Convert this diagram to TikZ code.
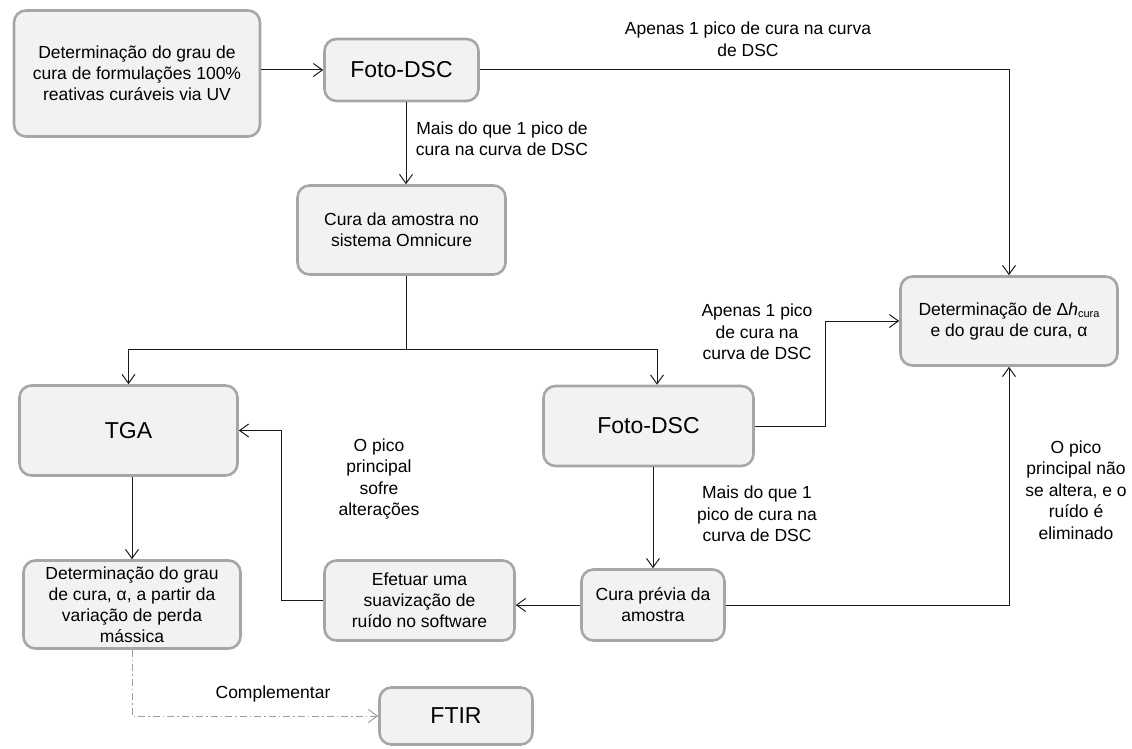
\documentclass[tikz,border=0pt]{standalone}
\usepackage{fontspec}
\setmainfont{Liberation Sans}
\usetikzlibrary{arrows.meta}
\definecolor{boxfill}{HTML}{F2F2F2}
\definecolor{boxline}{HTML}{A6A6A6}
\definecolor{linec}{HTML}{1A1A1A}
\definecolor{dashc}{HTML}{A0A0A0}
\tikzset{
  box/.style={draw=boxline, line width=2.6pt, fill=boxfill, rounded corners=12pt, align=center, inner sep=0pt, font=\fontsize{17.5}{21}\selectfont},
  sz/.style 2 args={minimum width=#1pt, minimum height=#2pt},
  big/.style={font=\fontsize{23}{27}\selectfont},
  lbl/.style={align=center, inner sep=0pt, font=\fontsize{17.5}{21.5}\selectfont},
  tip/.tip={Straight Barb[length=9pt,width=13pt]},
  conn/.style={draw=linec, line width=1pt, -tip},
  plain/.style={draw=linec, line width=1pt},
  ddash/.style={draw=dashc, line width=1pt, dash pattern=on 7pt off 3pt on 1.5pt off 3pt, -tip},
}
\begin{document}
\begin{tikzpicture}[x=1pt,y=-1pt]
\useasboundingbox (0,0) rectangle (1132,749);
% boxes
\node[box, sz={246}{126}] (S) at (137,73.5) {Determinação do grau de\\cura de formulações 100\%\\reativas curáveis via UV};
\node[box, big, sz={154}{62}] (F1) at (401.5,70) {Foto-DSC};
\node[box, sz={208}{89}] (O) at (401.5,230) {Cura da amostra no\\sistema Omnicure};
\node[box, sz={217}{89}] (D) at (1009,321) {Determinação de Δ\textit{h}\raisebox{-0.3ex}{\fontsize{11}{11}\selectfont cura}\\e do grau de cura, α};
\node[box, big, sz={218}{90}] (TGA) at (128.5,430.5) {TGA};
\node[box, big, sz={210}{80}] (F2) at (648.5,426) {Foto-DSC};
\node[box, sz={143}{71}] (CP) at (653,605) {Cura prévia da\\amostra};
\node[box, sz={190}{80}] (E) at (419.5,600.5) {Efetuar uma\\suavização de\\ruído no software};
\node[box, sz={217}{88}] (A) at (132,604.5) {Determinação do grau\\de cura, α, a partir da\\variação de perda\\mássica};
\node[box, big, sz={153}{57}] (FTIR) at (456,716) {FTIR};
% labels
\node[lbl] (l1) at (748,39) {Apenas 1 pico de cura na curva\\de DSC};
\node[lbl] (l2) at (502,138.5) {Mais do que 1 pico de\\cura na curva de DSC};
\node[lbl] (l3) at (757,332) {Apenas 1 pico\\de cura na\\curva de DSC};
\node[lbl] (l4) at (757,514) {Mais do que 1\\pico de cura na\\curva de DSC};
\node[lbl] (l5) at (1076,490) {O pico\\principal não\\se altera, e o\\ruído é\\eliminado};
\node[lbl] (l6) at (379,479) {O pico\\principal\\sofre\\alterações};
\node[lbl] (l7) at (273,694) {Complementar};
% connectors
\draw[conn] (S.east |- F1.west) -- (F1.west);
\draw[conn] (F1.east) -| (D.north);
\coordinate (f1d) at ([xshift=4.5pt]F1.south);
\draw[conn] (f1d) -- (f1d |- O.north);
\coordinate (split) at (406,349);
\draw[plain] (O.south -| split) -- (split);
\draw[conn] (split) -| (TGA.north);
\draw[conn] (split) -| ([xshift=8.5pt]F2.north);
\draw[conn] (F2.east) -- ++(71,0) |- (D.west);
\draw[conn] (CP.north |- F2.south) -- (CP.north);
\draw[conn] (CP.east) -| (D.south);
\draw[conn] (CP.west) -- (CP.west -| E.east);
\draw[conn] (E.west) -- ++(-42,0) |- (TGA.east);
\draw[conn] (A.north |- TGA.south) -- (A.north);
\draw[ddash] (A.south) |- (FTIR.west);
\end{tikzpicture}
\end{document}
